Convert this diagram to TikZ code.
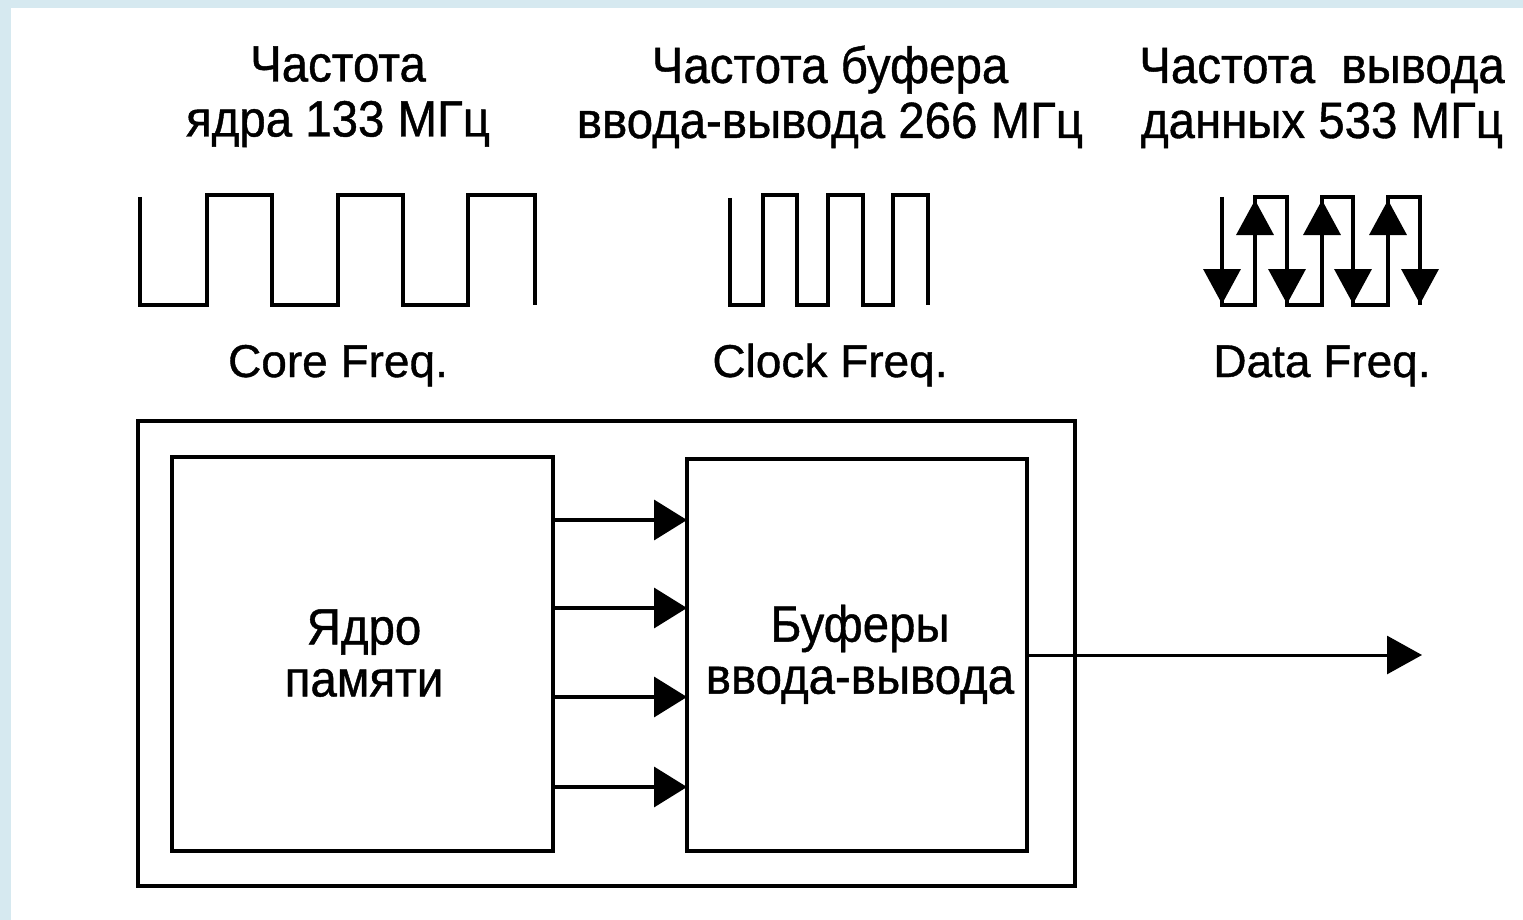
\documentclass[tikz,border=0pt]{standalone}
\usepackage{fontspec}
\setmainfont{Liberation Sans}[FakeBold=0.8]
\newfontfamily\rusfont{Liberation Sans}[FakeStretch=0.93,FakeBold=0.8]
\newfontfamily\engfont{Liberation Sans}[FakeBold=0.8]
\usetikzlibrary{arrows.meta}
\definecolor{frameblue}{RGB}{214,233,240}
\tikzset{
  ln/.style={line width=3.5pt, line join=miter},
  blk/.style={draw, line width=3.5pt, inner sep=0pt, outer sep=0pt},
  conn/.style={line width=3.5pt, -{Triangle[length=33pt,width=40pt]}},
  outconn/.style={line width=3pt, -{Triangle[length=35pt,width=38pt]}},
  datatip/.style={line width=3.5pt, -{Triangle[length=35pt,width=37pt]}},
  toplbl/.style={font=\rusfont\fontsize{51}{55}\selectfont, align=center, inner sep=0pt},
  boxlbl/.style={font=\rusfont\fontsize{51}{52}\selectfont, align=center, inner sep=0pt},
  englbl/.style={font=\engfont\fontsize{46}{52}\selectfont, anchor=base, inner sep=0pt},
}
\begin{document}
\begin{tikzpicture}[x=1pt,y=-1pt]
\useasboundingbox (0,0) rectangle (1523,920);
\fill[white] (0,0) rectangle (1523,920);
\fill[frameblue] (0,0) rectangle (1523,8);
\fill[frameblue] (0,0) rectangle (11,920);

% top labels
\node[toplbl] (tcore) at (338,98) {\strut Частота\\\strut ядра 133 МГц};
\node[toplbl] (tclock) at (830,99.5) {\strut Частота буфера\\\strut ввода-вывода 266 МГц};
\node[toplbl] (tdata) at (1322,99.5) {\strut Частота~~вывода\\\strut данных 533 МГц};

% waveforms
\draw[ln] (140,197) -- (140,305) -- (207,305) -- (207,195) -- (272,195) -- (272,305)
  -- (338,305) -- (338,195) -- (403,195) -- (403,305) -- (468,305) -- (468,195)
  -- (535,195) -- (535,305);
\draw[ln] (730,198) -- (730,305) -- (763,305) -- (763,195) -- (797,195) -- (797,305)
  -- (828,305) -- (828,195) -- (863,195) -- (863,305) -- (893,305) -- (893,195)
  -- (928,195) -- (928,305);
\draw[ln] (1222,197) -- (1222,305) -- (1255,305) -- (1255,197) -- (1287,197) -- (1287,305)
  -- (1322,305) -- (1322,197) -- (1353,197) -- (1353,305) -- (1388,305) -- (1388,197)
  -- (1420,197) -- (1420,305);
\foreach \x in {1222,1287,1353,1420} \draw[datatip] (\x,230) -- (\x,304);
\foreach \x in {1255,1322,1388} \draw[datatip] (\x,270) -- (\x,200);

% english labels
\node[englbl] (lcore) at (338,377) {Core Freq.};
\node[englbl] (lclock) at (830,377) {Clock Freq.};
\node[englbl] (ldata) at (1322,377) {Data Freq.};

% blocks
\node[blk, minimum width=937pt, minimum height=465pt] (chip) at (606.5,653.5) {};
\node[blk, minimum width=381pt, minimum height=394pt] (core) at (362.5,654) {};
\node[blk, minimum width=340pt, minimum height=392pt] (buf) at (857,655) {};
\node[boxlbl] (corelbl) at (364,660) {\strut Ядро\\\strut памяти};
\node[boxlbl] (buflbl) at (860,657) {\strut Буферы\\\strut ввода-вывода};

% connectors
\foreach \y in {520,608,697,787}
  \draw[conn] (core.east |- 0,\y) -- (buf.west |- 0,\y);
\coordinate (out) at (1422,655);
\draw[outconn] (buf.east) -- (out);
\end{tikzpicture}
\end{document}
